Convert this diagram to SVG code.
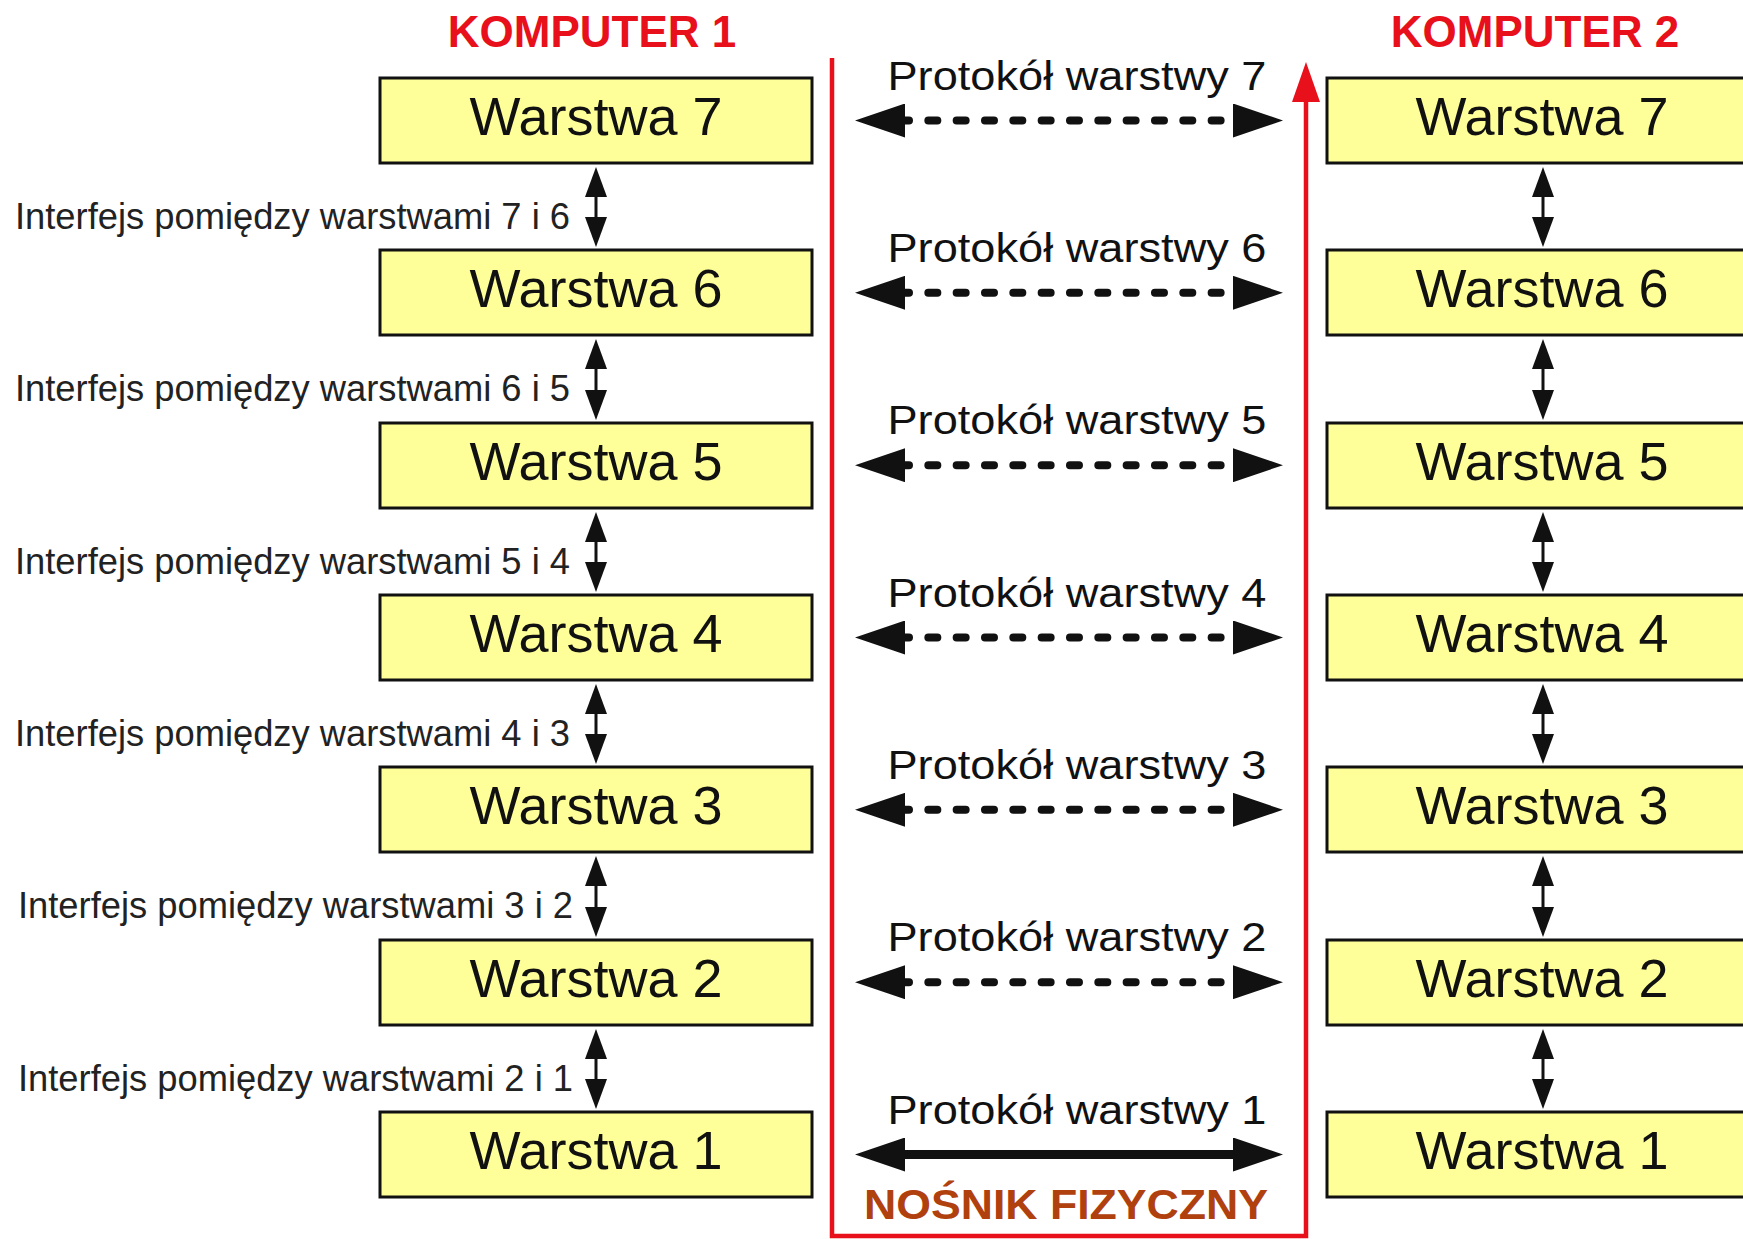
<svg xmlns="http://www.w3.org/2000/svg" width="1743" height="1239" viewBox="0 0 1743 1239">
<style>
.box{fill:#ffff99;stroke:#111;stroke-width:3}
.bt{font-family:"Liberation Sans",Arial,sans-serif;font-size:54px;fill:#111;text-anchor:middle}
.il{font-family:"Liberation Sans",Arial,sans-serif;font-size:36px;fill:#222}
.pt{font-family:"Liberation Sans",Arial,sans-serif;font-size:41px;fill:#111;text-anchor:middle}
.ttl{font-family:"Liberation Sans",Arial,sans-serif;font-size:44px;font-weight:bold;fill:#e8101a;text-anchor:middle}
.med{font-family:"Liberation Sans",Arial,sans-serif;font-size:42px;font-weight:bold;fill:#b0400e;text-anchor:middle}
.va{stroke:#111;stroke-width:3;fill:none;marker-start:url(#va);marker-end:url(#va)}
.pd{stroke:#111;stroke-width:8;fill:none;stroke-dasharray:9 19.33;stroke-dashoffset:5;stroke-linecap:round;marker-start:url(#pa);marker-end:url(#pa)}
.ps{stroke:#111;stroke-width:9;fill:none;marker-start:url(#pa);marker-end:url(#pa)}
</style>
<defs>
<marker id="va" viewBox="0 0 30 22" markerWidth="30" markerHeight="22" refX="0" refY="11" orient="auto-start-reverse" markerUnits="userSpaceOnUse"><path d="M0,0 L30,11 L0,22 Z" fill="#111"/></marker>
<marker id="pa" viewBox="0 0 50 34" markerWidth="50" markerHeight="34" refX="0" refY="17" orient="auto-start-reverse" markerUnits="userSpaceOnUse"><path d="M0,0 L50,17 L0,34 Z" fill="#111"/></marker>
<marker id="ra" viewBox="0 0 40 28" markerWidth="40" markerHeight="28" refX="0" refY="14" orient="auto" markerUnits="userSpaceOnUse"><path d="M0,0 L40,14 L0,28 Z" fill="#e8101a"/></marker>
</defs>
<rect width="1743" height="1239" fill="#fff"/>

<g id="titles">
<text class="ttl" x="592" y="47">KOMPUTER 1</text>
<text class="ttl" x="1535" y="47">KOMPUTER 2</text>
</g>

<g id="medium">
<path d="M832,58 V1236 H1306 V102" fill="none" stroke="#e8101a" stroke-width="4.5" marker-end="url(#ra)"/>
<text class="med" x="1066" y="1219" textLength="404" lengthAdjust="spacingAndGlyphs">NOŚNIK FIZYCZNY</text>
</g>

<g id="k1-l7"><rect class="box" x="380" y="78" width="432" height="85"/><text class="bt" x="596" y="135">Warstwa 7</text></g>
<g id="k1-l6"><rect class="box" x="380" y="250" width="432" height="85"/><text class="bt" x="596" y="307">Warstwa 6</text></g>
<g id="k1-l5"><rect class="box" x="380" y="423" width="432" height="85"/><text class="bt" x="596" y="480">Warstwa 5</text></g>
<g id="k1-l4"><rect class="box" x="380" y="595" width="432" height="85"/><text class="bt" x="596" y="652">Warstwa 4</text></g>
<g id="k1-l3"><rect class="box" x="380" y="767" width="432" height="85"/><text class="bt" x="596" y="824">Warstwa 3</text></g>
<g id="k1-l2"><rect class="box" x="380" y="940" width="432" height="85"/><text class="bt" x="596" y="997">Warstwa 2</text></g>
<g id="k1-l1"><rect class="box" x="380" y="1112" width="432" height="85"/><text class="bt" x="596" y="1169">Warstwa 1</text></g>

<g id="k2-l7"><rect class="box" x="1327" y="78" width="432" height="85"/><text class="bt" x="1542" y="135">Warstwa 7</text></g>
<g id="k2-l6"><rect class="box" x="1327" y="250" width="432" height="85"/><text class="bt" x="1542" y="307">Warstwa 6</text></g>
<g id="k2-l5"><rect class="box" x="1327" y="423" width="432" height="85"/><text class="bt" x="1542" y="480">Warstwa 5</text></g>
<g id="k2-l4"><rect class="box" x="1327" y="595" width="432" height="85"/><text class="bt" x="1542" y="652">Warstwa 4</text></g>
<g id="k2-l3"><rect class="box" x="1327" y="767" width="432" height="85"/><text class="bt" x="1542" y="824">Warstwa 3</text></g>
<g id="k2-l2"><rect class="box" x="1327" y="940" width="432" height="85"/><text class="bt" x="1542" y="997">Warstwa 2</text></g>
<g id="k2-l1"><rect class="box" x="1327" y="1112" width="432" height="85"/><text class="bt" x="1542" y="1169">Warstwa 1</text></g>

<g id="interface-labels">
<text class="il" x="15" y="229" textLength="555" lengthAdjust="spacingAndGlyphs">Interfejs pomiędzy warstwami 7 i 6</text>
<text class="il" x="15" y="401" textLength="555" lengthAdjust="spacingAndGlyphs">Interfejs pomiędzy warstwami 6 i 5</text>
<text class="il" x="15" y="574" textLength="555" lengthAdjust="spacingAndGlyphs">Interfejs pomiędzy warstwami 5 i 4</text>
<text class="il" x="15" y="746" textLength="555" lengthAdjust="spacingAndGlyphs">Interfejs pomiędzy warstwami 4 i 3</text>
<text class="il" x="18" y="918" textLength="555" lengthAdjust="spacingAndGlyphs">Interfejs pomiędzy warstwami 3 i 2</text>
<text class="il" x="18" y="1091" textLength="555" lengthAdjust="spacingAndGlyphs">Interfejs pomiędzy warstwami 2 i 1</text>
</g>

<g id="protocol-labels">
<text class="pt" x="1077" y="90" textLength="379" lengthAdjust="spacingAndGlyphs">Protokół warstwy 7</text>
<text class="pt" x="1077" y="262" textLength="379" lengthAdjust="spacingAndGlyphs">Protokół warstwy 6</text>
<text class="pt" x="1077" y="434" textLength="379" lengthAdjust="spacingAndGlyphs">Protokół warstwy 5</text>
<text class="pt" x="1077" y="607" textLength="379" lengthAdjust="spacingAndGlyphs">Protokół warstwy 4</text>
<text class="pt" x="1077" y="779" textLength="379" lengthAdjust="spacingAndGlyphs">Protokół warstwy 3</text>
<text class="pt" x="1077" y="951" textLength="379" lengthAdjust="spacingAndGlyphs">Protokół warstwy 2</text>
<text class="pt" x="1077" y="1124" textLength="379" lengthAdjust="spacingAndGlyphs">Protokół warstwy 1</text>
</g>

<g id="connectors">
<path class="va" d="M596,197 V217"/>
<path class="va" d="M596,369 V390"/>
<path class="va" d="M596,542 V562"/>
<path class="va" d="M596,714 V734"/>
<path class="va" d="M596,886 V907"/>
<path class="va" d="M596,1059 V1079"/>
<path class="va" d="M1543,197 V217"/>
<path class="va" d="M1543,369 V390"/>
<path class="va" d="M1543,542 V562"/>
<path class="va" d="M1543,714 V734"/>
<path class="va" d="M1543,886 V907"/>
<path class="va" d="M1543,1059 V1079"/>
<path class="pd" d="M905,120.5 H1233"/>
<path class="pd" d="M905,292.8 H1233"/>
<path class="pd" d="M905,465.2 H1233"/>
<path class="pd" d="M905,637.5 H1233"/>
<path class="pd" d="M905,809.8 H1233"/>
<path class="pd" d="M905,982.2 H1233"/>
<path class="ps" d="M905,1154.5 H1233"/>
</g>
</svg>
